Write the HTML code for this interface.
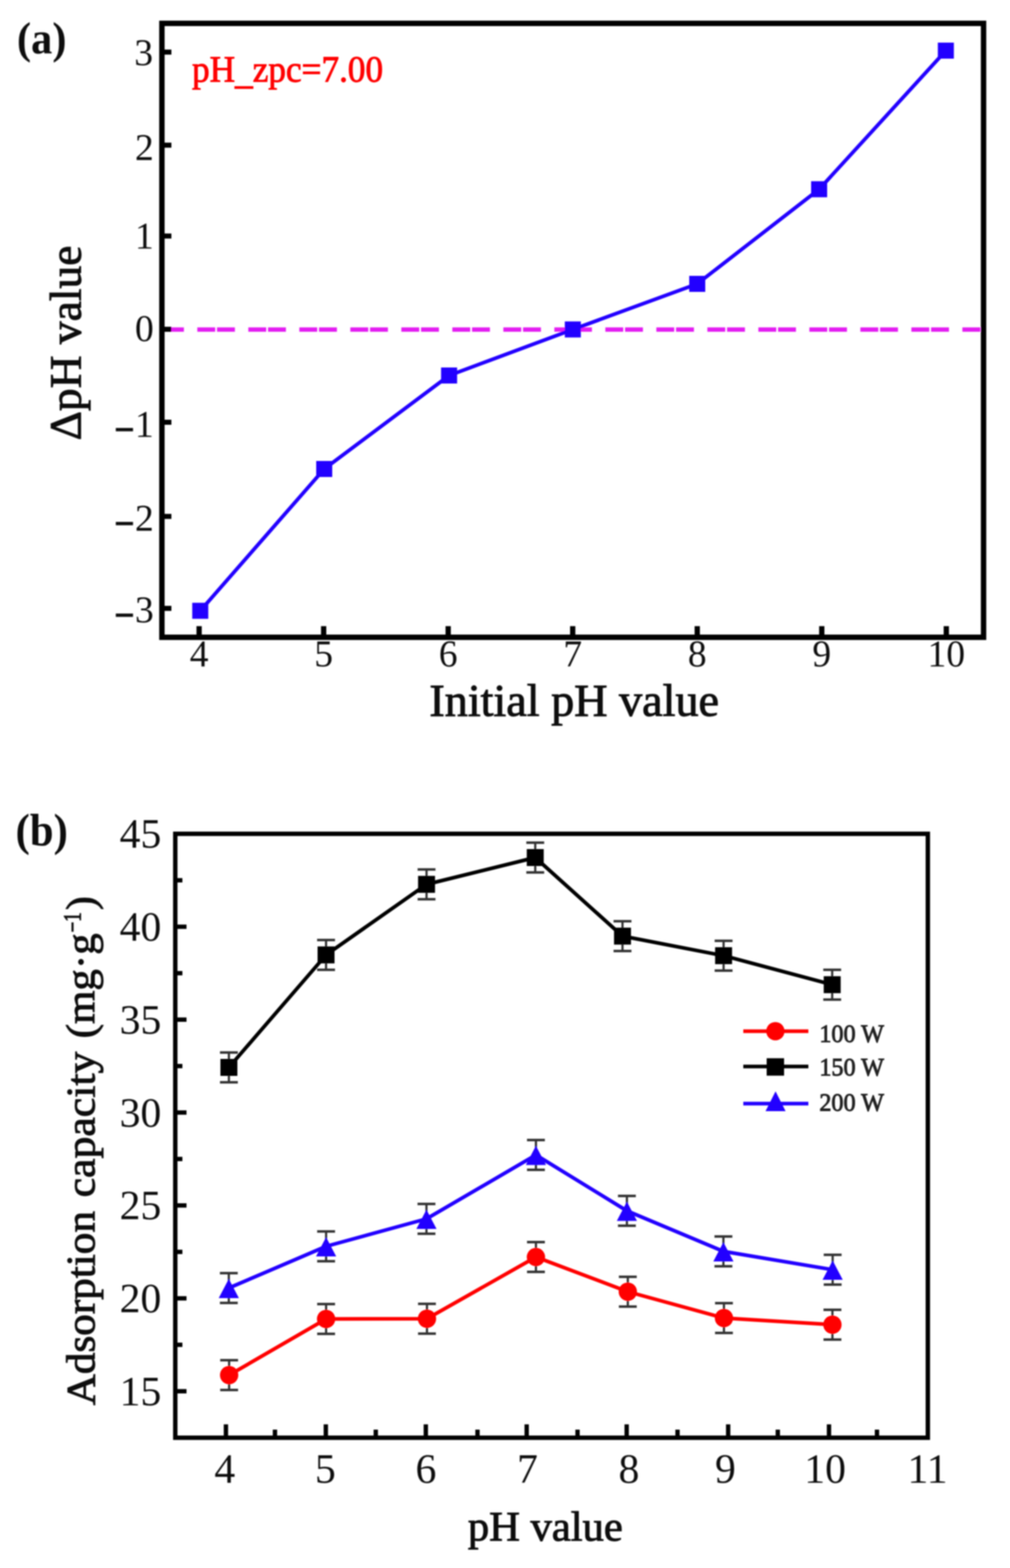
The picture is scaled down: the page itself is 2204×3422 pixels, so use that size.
<!DOCTYPE html>
<html lang="en">
<head>
<meta charset="utf-8">
<title>Figure: pH_zpc and adsorption capacity vs pH</title>
<style>
html, body { margin: 0; padding: 0; background: #ffffff; }
body { width: 2204px; height: 3422px; overflow: hidden; }
svg { display: block; }
</style>
</head>
<body>
<svg width="2204" height="3422" viewBox="0 0 2204 3422" font-family="'Liberation Serif', 'Times New Roman', serif">
<defs><filter id="soft" x="0" y="0" width="2204" height="3422" filterUnits="userSpaceOnUse"><feGaussianBlur stdDeviation="1.7"/></filter></defs>
<rect width="2204" height="3422" fill="#fff"/>
<g filter="url(#soft)">
<line x1="353.3" y1="719.3" x2="2146.3" y2="719.3" stroke="#e31cf2" stroke-width="9.5" stroke-dasharray="39 4 39 29.3" stroke-dashoffset="34"/>
<rect x="353.3" y="51" width="1793" height="1339.8" fill="none" stroke="#000" stroke-width="11.8"/>
<line x1="353.3" y1="1327.7" x2="374" y2="1327.7" stroke="#000" stroke-width="11"/>
<line x1="353.3" y1="1127" x2="374" y2="1127" stroke="#000" stroke-width="11"/>
<line x1="353.3" y1="921.5" x2="374" y2="921.5" stroke="#000" stroke-width="11"/>
<line x1="353.3" y1="718.6" x2="374" y2="718.6" stroke="#000" stroke-width="11"/>
<line x1="353.3" y1="515.1" x2="374" y2="515.1" stroke="#000" stroke-width="11"/>
<line x1="353.3" y1="316.8" x2="374" y2="316.8" stroke="#000" stroke-width="11"/>
<line x1="353.3" y1="113.7" x2="374" y2="113.7" stroke="#000" stroke-width="11"/>
<line x1="434.5" y1="1390.8" x2="434.5" y2="1366.5" stroke="#000" stroke-width="11.5"/>
<line x1="706.25" y1="1390.8" x2="706.25" y2="1366.5" stroke="#000" stroke-width="11.5"/>
<line x1="978" y1="1390.8" x2="978" y2="1366.5" stroke="#000" stroke-width="11.5"/>
<line x1="1249.75" y1="1390.8" x2="1249.75" y2="1366.5" stroke="#000" stroke-width="11.5"/>
<line x1="1521.5" y1="1390.8" x2="1521.5" y2="1366.5" stroke="#000" stroke-width="11.5"/>
<line x1="1793.25" y1="1390.8" x2="1793.25" y2="1366.5" stroke="#000" stroke-width="11.5"/>
<line x1="2065" y1="1390.8" x2="2065" y2="1366.5" stroke="#000" stroke-width="11.5"/>
<text x="335.5" y="1357.6" font-size="82" text-anchor="end" font-weight="normal" fill="#111111" ><tspan font-weight="bold" font-size="68" stroke="#111" stroke-width="2.6">&#8211;</tspan><tspan dx="6">3</tspan></text>
<text x="335.5" y="1158.1" font-size="82" text-anchor="end" font-weight="normal" fill="#111111" ><tspan font-weight="bold" font-size="68" stroke="#111" stroke-width="2.6">&#8211;</tspan><tspan dx="6">2</tspan></text>
<text x="335.5" y="953.1" font-size="82" text-anchor="end" font-weight="normal" fill="#111111" ><tspan font-weight="bold" font-size="68" stroke="#111" stroke-width="2.6">&#8211;</tspan><tspan dx="6">1</tspan></text>
<text x="335.5" y="743.6" font-size="82" text-anchor="end" font-weight="normal" fill="#111111" >0</text>
<text x="335.5" y="541.6" font-size="82" text-anchor="end" font-weight="normal" fill="#111111" >1</text>
<text x="335.5" y="348.6" font-size="82" text-anchor="end" font-weight="normal" fill="#111111" >2</text>
<text x="334" y="141.6" font-size="82" text-anchor="end" font-weight="normal" fill="#111111" >3</text>
<text x="434.5" y="1454" font-size="82" text-anchor="middle" font-weight="normal" fill="#111111" >4</text>
<text x="706.25" y="1454" font-size="82" text-anchor="middle" font-weight="normal" fill="#111111" >5</text>
<text x="978" y="1454" font-size="82" text-anchor="middle" font-weight="normal" fill="#111111" >6</text>
<text x="1249.75" y="1454" font-size="82" text-anchor="middle" font-weight="normal" fill="#111111" >7</text>
<text x="1521.5" y="1454" font-size="82" text-anchor="middle" font-weight="normal" fill="#111111" >8</text>
<text x="1793.25" y="1454" font-size="82" text-anchor="middle" font-weight="normal" fill="#111111" >9</text>
<text x="2065" y="1454" font-size="82" text-anchor="middle" font-weight="normal" fill="#111111" >10</text>
<polyline points="437,1333 707.5,1023.5 980,819.5 1250,719 1521.5,619.5 1787.5,413 2064,110.5" fill="none" stroke="#2000ff" stroke-width="8" stroke-linejoin="round"/>
<rect x="419.5" y="1315.5" width="35" height="35" fill="#2000ff"/>
<rect x="690" y="1006" width="35" height="35" fill="#2000ff"/>
<rect x="962.5" y="802" width="35" height="35" fill="#2000ff"/>
<rect x="1232.5" y="701.5" width="35" height="35" fill="#2000ff"/>
<rect x="1504" y="602" width="35" height="35" fill="#2000ff"/>
<rect x="1770" y="395.5" width="35" height="35" fill="#2000ff"/>
<rect x="2046.5" y="93" width="35" height="35" fill="#2000ff"/>
<text x="419" y="178.3" font-size="80" text-anchor="start" font-weight="normal" fill="#ff0000" textLength="417" lengthAdjust="spacingAndGlyphs" stroke="#ff0000" stroke-width="1.8">pH<tspan dy="5">_</tspan><tspan dy="-5">zpc=7.00</tspan></text>
<text x="37" y="115.6" font-size="97" text-anchor="start" font-weight="bold" fill="#111111" textLength="108" lengthAdjust="spacingAndGlyphs" >(a)</text>
<text x="937" y="1562" font-size="99" text-anchor="start" font-weight="normal" fill="#111111" textLength="632" lengthAdjust="spacingAndGlyphs" stroke="#111" stroke-width="1.9">Initial pH value</text>
<text transform="translate(175.5,961) rotate(-90)" x="0" y="0" font-size="97" fill="#111111" stroke="#111" stroke-width="1.9" textLength="425" lengthAdjust="spacingAndGlyphs">&#916;pH value</text>
<rect x="382.5" y="1819.7" width="1642.2" height="1318" fill="none" stroke="#000" stroke-width="9.6"/>
<line x1="382.5" y1="3036.25" x2="407" y2="3036.25" stroke="#000" stroke-width="9.5"/>
<line x1="382.5" y1="2934.88" x2="398" y2="2934.88" stroke="#000" stroke-width="9.5"/>
<line x1="382.5" y1="2833.5" x2="407" y2="2833.5" stroke="#000" stroke-width="9.5"/>
<line x1="382.5" y1="2732.12" x2="398" y2="2732.12" stroke="#000" stroke-width="9.5"/>
<line x1="382.5" y1="2630.75" x2="407" y2="2630.75" stroke="#000" stroke-width="9.5"/>
<line x1="382.5" y1="2529.38" x2="398" y2="2529.38" stroke="#000" stroke-width="9.5"/>
<line x1="382.5" y1="2428" x2="407" y2="2428" stroke="#000" stroke-width="9.5"/>
<line x1="382.5" y1="2326.62" x2="398" y2="2326.62" stroke="#000" stroke-width="9.5"/>
<line x1="382.5" y1="2225.25" x2="407" y2="2225.25" stroke="#000" stroke-width="9.5"/>
<line x1="382.5" y1="2123.88" x2="398" y2="2123.88" stroke="#000" stroke-width="9.5"/>
<line x1="382.5" y1="2022.5" x2="407" y2="2022.5" stroke="#000" stroke-width="9.5"/>
<line x1="382.5" y1="1921.12" x2="398" y2="1921.12" stroke="#000" stroke-width="9.5"/>
<line x1="493" y1="3137.7" x2="493" y2="3108.5" stroke="#000" stroke-width="9.5"/>
<line x1="600" y1="3137.7" x2="600" y2="3120" stroke="#000" stroke-width="9.5"/>
<line x1="711" y1="3137.7" x2="711" y2="3108.5" stroke="#000" stroke-width="9.5"/>
<line x1="820" y1="3137.7" x2="820" y2="3120" stroke="#000" stroke-width="9.5"/>
<line x1="929.2" y1="3137.7" x2="929.2" y2="3108.5" stroke="#000" stroke-width="9.5"/>
<line x1="1042" y1="3137.7" x2="1042" y2="3120" stroke="#000" stroke-width="9.5"/>
<line x1="1149.3" y1="3137.7" x2="1149.3" y2="3108.5" stroke="#000" stroke-width="9.5"/>
<line x1="1260.3" y1="3137.7" x2="1260.3" y2="3120" stroke="#000" stroke-width="9.5"/>
<line x1="1367.5" y1="3137.7" x2="1367.5" y2="3108.5" stroke="#000" stroke-width="9.5"/>
<line x1="1478.5" y1="3137.7" x2="1478.5" y2="3120" stroke="#000" stroke-width="9.5"/>
<line x1="1589" y1="3137.7" x2="1589" y2="3108.5" stroke="#000" stroke-width="9.5"/>
<line x1="1697.3" y1="3137.7" x2="1697.3" y2="3120" stroke="#000" stroke-width="9.5"/>
<line x1="1809" y1="3137.7" x2="1809" y2="3108.5" stroke="#000" stroke-width="9.5"/>
<line x1="1913.7" y1="3137.7" x2="1913.7" y2="3120" stroke="#000" stroke-width="9.5"/>
<text x="352" y="3066.75" font-size="91" text-anchor="end" font-weight="normal" fill="#111111" >15</text>
<text x="352" y="2864" font-size="91" text-anchor="end" font-weight="normal" fill="#111111" >20</text>
<text x="352" y="2661.25" font-size="91" text-anchor="end" font-weight="normal" fill="#111111" >25</text>
<text x="352" y="2458.5" font-size="91" text-anchor="end" font-weight="normal" fill="#111111" >30</text>
<text x="352" y="2255.75" font-size="91" text-anchor="end" font-weight="normal" fill="#111111" >35</text>
<text x="352" y="2053" font-size="91" text-anchor="end" font-weight="normal" fill="#111111" >40</text>
<text x="352" y="1850.25" font-size="91" text-anchor="end" font-weight="normal" fill="#111111" >45</text>
<text x="490.5" y="3236" font-size="91" text-anchor="middle" font-weight="normal" fill="#111111" >4</text>
<text x="710" y="3236" font-size="91" text-anchor="middle" font-weight="normal" fill="#111111" >5</text>
<text x="929.4" y="3236" font-size="91" text-anchor="middle" font-weight="normal" fill="#111111" >6</text>
<text x="1151" y="3236" font-size="91" text-anchor="middle" font-weight="normal" fill="#111111" >7</text>
<text x="1372.5" y="3236" font-size="91" text-anchor="middle" font-weight="normal" fill="#111111" >8</text>
<text x="1583" y="3236" font-size="91" text-anchor="middle" font-weight="normal" fill="#111111" >9</text>
<text x="1800.5" y="3236" font-size="91" text-anchor="middle" font-weight="normal" fill="#111111" >10</text>
<text x="2024" y="3236" font-size="91" text-anchor="middle" font-weight="normal" fill="#111111" >11</text>
<line x1="499.5" y1="2297" x2="499.5" y2="2362" stroke="#333333" stroke-width="4.8"/>
<line x1="480" y1="2297" x2="519" y2="2297" stroke="#333333" stroke-width="5.5"/>
<line x1="480" y1="2362" x2="519" y2="2362" stroke="#333333" stroke-width="5.5"/>
<line x1="711.5" y1="2051.5" x2="711.5" y2="2116.5" stroke="#333333" stroke-width="4.8"/>
<line x1="692" y1="2051.5" x2="731" y2="2051.5" stroke="#333333" stroke-width="5.5"/>
<line x1="692" y1="2116.5" x2="731" y2="2116.5" stroke="#333333" stroke-width="5.5"/>
<line x1="930.8" y1="1897.5" x2="930.8" y2="1962.5" stroke="#333333" stroke-width="4.8"/>
<line x1="911.3" y1="1897.5" x2="950.3" y2="1897.5" stroke="#333333" stroke-width="5.5"/>
<line x1="911.3" y1="1962.5" x2="950.3" y2="1962.5" stroke="#333333" stroke-width="5.5"/>
<line x1="1168" y1="1839" x2="1168" y2="1904" stroke="#333333" stroke-width="4.8"/>
<line x1="1148.5" y1="1839" x2="1187.5" y2="1839" stroke="#333333" stroke-width="5.5"/>
<line x1="1148.5" y1="1904" x2="1187.5" y2="1904" stroke="#333333" stroke-width="5.5"/>
<line x1="1358.4" y1="2010.5" x2="1358.4" y2="2075.5" stroke="#333333" stroke-width="4.8"/>
<line x1="1338.9" y1="2010.5" x2="1377.9" y2="2010.5" stroke="#333333" stroke-width="5.5"/>
<line x1="1338.9" y1="2075.5" x2="1377.9" y2="2075.5" stroke="#333333" stroke-width="5.5"/>
<line x1="1579" y1="2053.2" x2="1579" y2="2118.2" stroke="#333333" stroke-width="4.8"/>
<line x1="1559.5" y1="2053.2" x2="1598.5" y2="2053.2" stroke="#333333" stroke-width="5.5"/>
<line x1="1559.5" y1="2118.2" x2="1598.5" y2="2118.2" stroke="#333333" stroke-width="5.5"/>
<line x1="1816" y1="2116.5" x2="1816" y2="2181.5" stroke="#333333" stroke-width="4.8"/>
<line x1="1796.5" y1="2116.5" x2="1835.5" y2="2116.5" stroke="#333333" stroke-width="5.5"/>
<line x1="1796.5" y1="2181.5" x2="1835.5" y2="2181.5" stroke="#333333" stroke-width="5.5"/>
<line x1="500" y1="2968.5" x2="500" y2="3033.5" stroke="#333333" stroke-width="4.8"/>
<line x1="480.5" y1="2968.5" x2="519.5" y2="2968.5" stroke="#333333" stroke-width="5.5"/>
<line x1="480.5" y1="3033.5" x2="519.5" y2="3033.5" stroke="#333333" stroke-width="5.5"/>
<line x1="711.6" y1="2846" x2="711.6" y2="2911" stroke="#333333" stroke-width="4.8"/>
<line x1="692.1" y1="2846" x2="731.1" y2="2846" stroke="#333333" stroke-width="5.5"/>
<line x1="692.1" y1="2911" x2="731.1" y2="2911" stroke="#333333" stroke-width="5.5"/>
<line x1="931.7" y1="2845.5" x2="931.7" y2="2910.5" stroke="#333333" stroke-width="4.8"/>
<line x1="912.2" y1="2845.5" x2="951.2" y2="2845.5" stroke="#333333" stroke-width="5.5"/>
<line x1="912.2" y1="2910.5" x2="951.2" y2="2910.5" stroke="#333333" stroke-width="5.5"/>
<line x1="1169.5" y1="2710.8" x2="1169.5" y2="2775.8" stroke="#333333" stroke-width="4.8"/>
<line x1="1150" y1="2710.8" x2="1189" y2="2710.8" stroke="#333333" stroke-width="5.5"/>
<line x1="1150" y1="2775.8" x2="1189" y2="2775.8" stroke="#333333" stroke-width="5.5"/>
<line x1="1370" y1="2786.5" x2="1370" y2="2851.5" stroke="#333333" stroke-width="4.8"/>
<line x1="1350.5" y1="2786.5" x2="1389.5" y2="2786.5" stroke="#333333" stroke-width="5.5"/>
<line x1="1350.5" y1="2851.5" x2="1389.5" y2="2851.5" stroke="#333333" stroke-width="5.5"/>
<line x1="1579.8" y1="2844" x2="1579.8" y2="2909" stroke="#333333" stroke-width="4.8"/>
<line x1="1560.3" y1="2844" x2="1599.3" y2="2844" stroke="#333333" stroke-width="5.5"/>
<line x1="1560.3" y1="2909" x2="1599.3" y2="2909" stroke="#333333" stroke-width="5.5"/>
<line x1="1816.5" y1="2858.5" x2="1816.5" y2="2923.5" stroke="#333333" stroke-width="4.8"/>
<line x1="1797" y1="2858.5" x2="1836" y2="2858.5" stroke="#333333" stroke-width="5.5"/>
<line x1="1797" y1="2923.5" x2="1836" y2="2923.5" stroke="#333333" stroke-width="5.5"/>
<line x1="499.3" y1="2778.5" x2="499.3" y2="2843.5" stroke="#333333" stroke-width="4.8"/>
<line x1="479.8" y1="2778.5" x2="518.8" y2="2778.5" stroke="#333333" stroke-width="5.5"/>
<line x1="479.8" y1="2843.5" x2="518.8" y2="2843.5" stroke="#333333" stroke-width="5.5"/>
<line x1="711.6" y1="2687.5" x2="711.6" y2="2752.5" stroke="#333333" stroke-width="4.8"/>
<line x1="692.1" y1="2687.5" x2="731.1" y2="2687.5" stroke="#333333" stroke-width="5.5"/>
<line x1="692.1" y1="2752.5" x2="731.1" y2="2752.5" stroke="#333333" stroke-width="5.5"/>
<line x1="930.6" y1="2627.5" x2="930.6" y2="2692.5" stroke="#333333" stroke-width="4.8"/>
<line x1="911.1" y1="2627.5" x2="950.1" y2="2627.5" stroke="#333333" stroke-width="5.5"/>
<line x1="911.1" y1="2692.5" x2="950.1" y2="2692.5" stroke="#333333" stroke-width="5.5"/>
<line x1="1169.5" y1="2488" x2="1169.5" y2="2553" stroke="#333333" stroke-width="4.8"/>
<line x1="1150" y1="2488" x2="1189" y2="2488" stroke="#333333" stroke-width="5.5"/>
<line x1="1150" y1="2553" x2="1189" y2="2553" stroke="#333333" stroke-width="5.5"/>
<line x1="1368" y1="2610" x2="1368" y2="2675" stroke="#333333" stroke-width="4.8"/>
<line x1="1348.5" y1="2610" x2="1387.5" y2="2610" stroke="#333333" stroke-width="5.5"/>
<line x1="1348.5" y1="2675" x2="1387.5" y2="2675" stroke="#333333" stroke-width="5.5"/>
<line x1="1578.6" y1="2698.5" x2="1578.6" y2="2763.5" stroke="#333333" stroke-width="4.8"/>
<line x1="1559.1" y1="2698.5" x2="1598.1" y2="2698.5" stroke="#333333" stroke-width="5.5"/>
<line x1="1559.1" y1="2763.5" x2="1598.1" y2="2763.5" stroke="#333333" stroke-width="5.5"/>
<line x1="1817" y1="2738.5" x2="1817" y2="2803.5" stroke="#333333" stroke-width="4.8"/>
<line x1="1797.5" y1="2738.5" x2="1836.5" y2="2738.5" stroke="#333333" stroke-width="5.5"/>
<line x1="1797.5" y1="2803.5" x2="1836.5" y2="2803.5" stroke="#333333" stroke-width="5.5"/>
<polyline points="499.5,2329.5 711.5,2084 930.8,1930 1168,1871.5 1358.4,2043 1579,2085.7 1816,2149" fill="none" stroke="#000" stroke-width="8" stroke-linejoin="round"/>
<polyline points="500,3001 711.6,2878.5 931.7,2878 1169.5,2743.3 1370,2819 1579.8,2876.5 1816.5,2891" fill="none" stroke="#ff0000" stroke-width="8" stroke-linejoin="round"/>
<polyline points="499.3,2811 711.6,2720 930.6,2660 1169.5,2520.5 1368,2642.5 1578.6,2731 1817,2771" fill="none" stroke="#2000ff" stroke-width="8" stroke-linejoin="round"/>
<rect x="481" y="2311" width="37" height="37" fill="#000"/>
<rect x="693" y="2065.5" width="37" height="37" fill="#000"/>
<rect x="912.3" y="1911.5" width="37" height="37" fill="#000"/>
<rect x="1149.5" y="1853" width="37" height="37" fill="#000"/>
<rect x="1339.9" y="2024.5" width="37" height="37" fill="#000"/>
<rect x="1560.5" y="2067.2" width="37" height="37" fill="#000"/>
<rect x="1797.5" y="2130.5" width="37" height="37" fill="#000"/>
<circle cx="500" cy="3001" r="20" fill="#ff0000"/>
<circle cx="711.6" cy="2878.5" r="20" fill="#ff0000"/>
<circle cx="931.7" cy="2878" r="20" fill="#ff0000"/>
<circle cx="1169.5" cy="2743.3" r="20" fill="#ff0000"/>
<circle cx="1370" cy="2819" r="20" fill="#ff0000"/>
<circle cx="1579.8" cy="2876.5" r="20" fill="#ff0000"/>
<circle cx="1816.5" cy="2891" r="20" fill="#ff0000"/>
<polygon points="499.3,2791.01 477.3,2833.01 521.3,2833.01" fill="#2000ff"/>
<polygon points="711.6,2700.01 689.6,2742.01 733.6,2742.01" fill="#2000ff"/>
<polygon points="930.6,2640.01 908.6,2682.01 952.6,2682.01" fill="#2000ff"/>
<polygon points="1169.5,2500.51 1147.5,2542.51 1191.5,2542.51" fill="#2000ff"/>
<polygon points="1368,2622.51 1346,2664.51 1390,2664.51" fill="#2000ff"/>
<polygon points="1578.6,2711.01 1556.6,2753.01 1600.6,2753.01" fill="#2000ff"/>
<polygon points="1817,2751.01 1795,2793.01 1839,2793.01" fill="#2000ff"/>
<line x1="1622" y1="2250.5" x2="1764" y2="2250.5" stroke="#ff0000" stroke-width="8"/>
<circle cx="1692" cy="2250.5" r="20" fill="#ff0000"/>
<text x="1788" y="2273.6" font-size="55" text-anchor="start" font-weight="normal" fill="#222" textLength="141" lengthAdjust="spacingAndGlyphs" stroke="#222" stroke-width="1.8">100 W</text>
<line x1="1622" y1="2327.5" x2="1764" y2="2327.5" stroke="#000" stroke-width="8"/>
<rect x="1673" y="2309.5" width="38" height="38" fill="#000"/>
<text x="1788" y="2347" font-size="55" text-anchor="start" font-weight="normal" fill="#222" textLength="141" lengthAdjust="spacingAndGlyphs" stroke="#222" stroke-width="1.8">150 W</text>
<line x1="1622" y1="2408.5" x2="1764" y2="2408.5" stroke="#2000ff" stroke-width="8"/>
<polygon points="1692.4,2381.7 1670.5,2425 1714.3,2425" fill="#2000ff"/>
<text x="1788" y="2424.4" font-size="55" text-anchor="start" font-weight="normal" fill="#222" textLength="141" lengthAdjust="spacingAndGlyphs" stroke="#222" stroke-width="1.8">200 W</text>
<text x="34" y="1845" font-size="99" text-anchor="start" font-weight="bold" fill="#111111" textLength="114" lengthAdjust="spacingAndGlyphs" >(b)</text>
<text x="1021" y="3362" font-size="91.5" text-anchor="start" font-weight="normal" fill="#111111" textLength="338" lengthAdjust="spacingAndGlyphs" stroke="#111" stroke-width="1.9">pH value</text>
<text transform="translate(205.5,3067) rotate(-90)" x="0" y="0" font-size="89" fill="#111111" stroke="#111" stroke-width="1.9" textLength="424" lengthAdjust="spacingAndGlyphs">Adsorption</text>
<text transform="translate(205.5,2613) rotate(-90)" x="0" y="0" font-size="89" fill="#111111" stroke="#111" stroke-width="1.9" textLength="318" lengthAdjust="spacingAndGlyphs">capacity</text>
<text transform="translate(205.5,2266) rotate(-90)" x="0" y="0" font-size="89" fill="#111111" stroke="#111" stroke-width="1.9" textLength="229" lengthAdjust="spacingAndGlyphs">(mg&#183;g</text>
<text transform="translate(175.5,2035) rotate(-90)" x="0" y="0" font-size="54" fill="#111111" stroke="#111" stroke-width="1.9" textLength="44" lengthAdjust="spacingAndGlyphs">&#8722;1</text>
<text transform="translate(205.5,1986) rotate(-90)" x="0" y="0" font-size="89" fill="#111111" stroke="#111" stroke-width="1.9" textLength="30" lengthAdjust="spacingAndGlyphs">)</text>
</g>
</svg>
</body>
</html>
